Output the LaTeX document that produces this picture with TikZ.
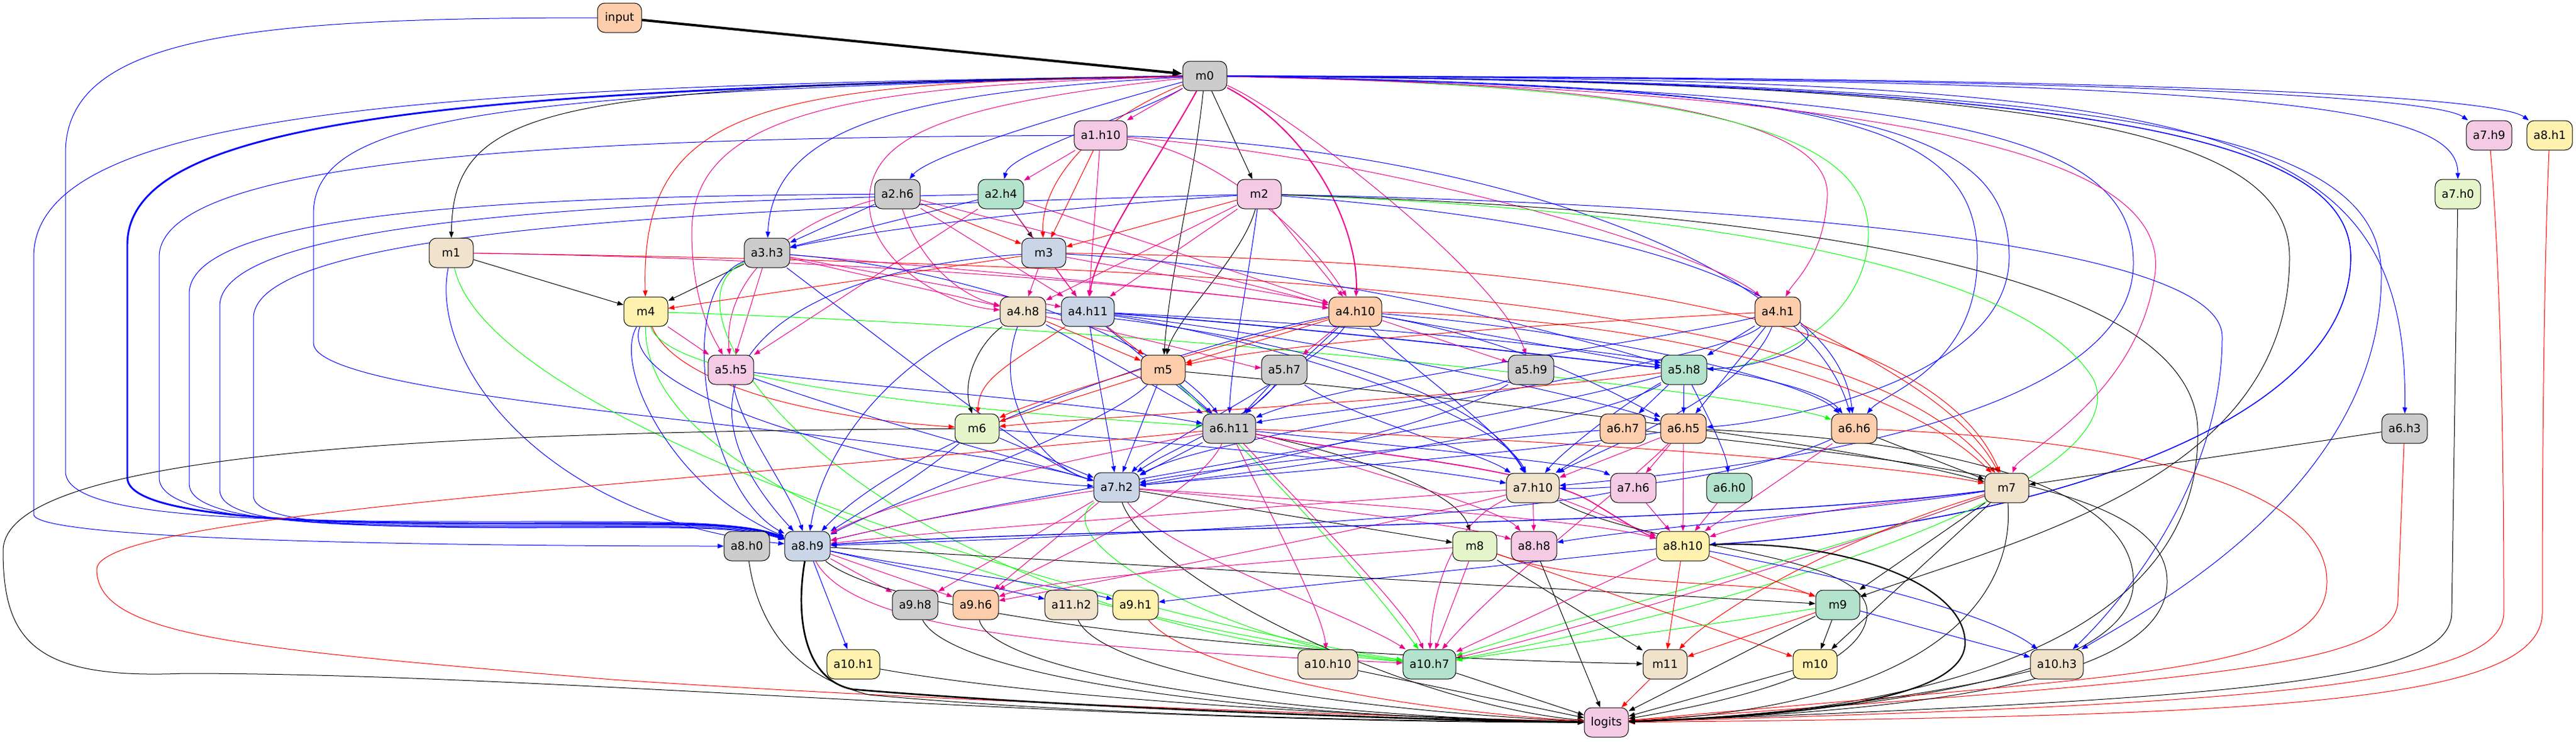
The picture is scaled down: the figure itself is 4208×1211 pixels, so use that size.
\documentclass[tikz,border=0pt]{standalone}
\usepackage{fontspec}
\setmainfont{DejaVu Sans}
\usetikzlibrary{arrows.meta,backgrounds}
\definecolor{pmint}{HTML}{B3E2CD}
\definecolor{ppeach}{HTML}{FDCDAC}
\definecolor{pblue}{HTML}{CBD5E8}
\definecolor{ppink}{HTML}{F4CAE4}
\definecolor{pgreen}{HTML}{E6F5C9}
\definecolor{pyellow}{HTML}{FFF2AE}
\definecolor{pbeige}{HTML}{F1E2CC}
\definecolor{pgray}{HTML}{CCCCCC}
\tikzset{
  box/.style={draw, line width=0.75pt, rounded corners=9pt, minimum height=36pt,
    minimum width=54pt, inner xsep=8pt, inner ysep=0pt,
    font=\fontsize{14pt}{16pt}\selectfont},
  conn/.style={-{Triangle[length=7.5pt,width=5.6pt]}, line width=0.75pt},
  bl/.style={conn, blue},
  rd/.style={conn, red},
  mg/.style={conn, magenta},
  gr/.style={conn, green},
  bk/.style={conn, black}
}
\begin{document}
\begin{tikzpicture}[x=0.75pt,y=-0.75pt]
\useasboundingbox (0,0) rectangle (4208,1211);
% nodes, one row per rank
\node[box, fill=ppeach] (input) at (1012,29) {input};
\node[box, fill=pgray] (m0) at (1968,124) {m0};
\node[box, fill=ppink] (a1h10) at (1798,221) {a1.h10};
\node[box, fill=ppink] (a7h9) at (4066,221) {a7.h9};
\node[box, fill=pyellow] (a8h1) at (4165,221) {a8.h1};
\node[box, fill=pgray] (a2h6) at (1466,317) {a2.h6};
\node[box, fill=pmint] (a2h4) at (1635,317) {a2.h4};
\node[box, fill=ppink] (m2) at (2057,317) {m2};
\node[box, fill=pgreen] (a7h0) at (4015,317) {a7.h0};
\node[box, fill=pbeige] (m1) at (737,413) {m1};
\node[box, fill=pgray] (a3h3) at (1253,413) {a3.h3};
\node[box, fill=pblue] (m3) at (1705,413) {m3};
\node[box, fill=pyellow] (m4) at (1055,509) {m4};
\node[box, fill=pbeige] (a4h8) at (1671,509) {a4.h8};
\node[box, fill=pblue] (a4h11) at (1777,509) {a4.h11};
\node[box, fill=ppeach] (a4h10) at (2214,509) {a4.h10};
\node[box, fill=ppeach] (a4h1) at (2904,509) {a4.h1};
\node[box, fill=ppink] (a5h5) at (1194,604) {a5.h5};
\node[box, fill=ppeach] (m5) at (1900,604) {m5};
\node[box, fill=pgray] (a5h7) at (2098,604) {a5.h7};
\node[box, fill=pgray] (a5h9) at (2501,604) {a5.h9};
\node[box, fill=pmint] (a5h8) at (2751,604) {a5.h8};
\node[box, fill=pgreen] (m6) at (1596,700) {m6};
\node[box, fill=pgray] (a6h11) at (2008,700) {a6.h11};
\node[box, fill=ppeach] (a6h7) at (2651,700) {a6.h7};
\node[box, fill=ppeach] (a6h5) at (2750,700) {a6.h5};
\node[box, fill=ppeach] (a6h6) at (3029,700) {a6.h6};
\node[box, fill=pgray] (a6h3) at (3928,700) {a6.h3};
\node[box, fill=pblue] (a7h2) at (1824,796) {a7.h2};
\node[box, fill=pbeige] (a7h10) at (2504,797) {a7.h10};
\node[box, fill=ppink] (a7h6) at (2668,797) {a7.h6};
\node[box, fill=pmint] (a6h0) at (2825,797) {a6.h0};
\node[box, fill=pbeige] (m7) at (3278,797) {m7};
\node[box, fill=pgray] (a8h0) at (1220,892) {a8.h0};
\node[box, fill=pblue] (a8h9) at (1319,892) {a8.h9};
\node[box, fill=pgreen] (m8) at (2409,892) {m8};
\node[box, fill=ppink] (a8h8) at (2506,892) {a8.h8};
\node[box, fill=pyellow] (a8h10) at (2749,892) {a8.h10};
\node[box, fill=pgray] (a9h8) at (1495,988) {a9.h8};
\node[box, fill=ppeach] (a9h6) at (1594,988) {a9.h6};
\node[box, fill=pbeige] (a11h2) at (1750,988) {a11.h2};
\node[box, fill=pyellow] (a9h1) at (1855,988) {a9.h1};
\node[box, fill=pmint] (m9) at (3002,988) {m9};
\node[box, fill=pyellow] (a10h1) at (1394,1085) {a10.h1};
\node[box, fill=pbeige] (a10h10) at (2169,1085) {a10.h10};
\node[box, fill=pmint] (a10h7) at (2335,1085) {a10.h7};
\node[box, fill=pbeige] (m11) at (2720,1085) {m11};
\node[box, fill=pyellow] (m10) at (2965,1085) {m10};
\node[box, fill=pbeige] (a10h3) at (3360,1085) {a10.h3};
\node[box, fill=ppink] (logits) at (2624,1180) {logits};
\begin{scope}[on background layer]
% input and m0
\draw[bk, line width=3pt, -{Triangle[length=12pt,width=9pt]}] (input) -- (m0);
\draw[bl] (input) .. controls (400,29) and (107,60) .. (107,250) -- (107,770) .. controls (107,845) and (400,852) .. (800,852) .. controls (1100,852) and (1200,850) .. (a8h9);
\draw[bl] (m0) .. controls (700,140) and (55,180) .. (55,420) -- (55,840) .. controls (55,885) and (800,892) .. (a8h0);
\draw[bl, line width=2.2pt] (m0) .. controls (700,145) and (208,200) .. (208,400) -- (208,780) .. controls (208,845) and (500,855) .. (800,855) .. controls (1100,855) and (1210,852) .. (a8h9);
\draw[bl] (m0) .. controls (800,150) and (512,190) .. (512,350) -- (512,560) .. controls (512,660) and (1500,700) .. (a7h2);
\draw[bk] (m0) .. controls (900,140) and (740,170) .. (m1);
\draw[rd] (m0) .. controls (1250,135) and (1045,170) .. (m4);
\draw[mg] (m0) .. controls (1400,140) and (1130,180) .. (1130,380) .. controls (1130,500) and (1170,560) .. (a5h5);
\draw[bl] (m0) .. controls (1500,150) and (1262,200) .. (a3h3);
\draw[mg] (m0) .. controls (1550,170) and (1420,220) .. (1420,330) .. controls (1420,430) and (1550,500) .. (a4h8);
\draw[bl] (m0) .. controls (1800,170) and (1520,250) .. (a2h6);
\draw[bl] (m0) .. controls (1850,190) and (1650,250) .. (a2h4);
\draw[mg] (m0) -- (a1h10);
\draw[rd] (m0) .. controls (1780,200) and (1700,300) .. (m3);
\draw[mg, line width=1.5pt] (m0) .. controls (1900,250) and (1790,400) .. (a4h11);
\draw[bk] (m0) .. controls (1950,300) and (1910,450) .. (m5);
\draw[bk] (m0) -- (m2);
\draw[mg, line width=1.5pt] (m0) .. controls (2150,220) and (2220,380) .. (a4h10);
\draw[mg] (m0) .. controls (2100,180) and (2450,450) .. (a5h9);
\draw[mg] (m0) .. controls (2700,135) and (2990,200) .. (2985,320) .. controls (2980,420) and (2930,460) .. (a4h1);
\draw[gr] (m0) .. controls (2800,140) and (3052,220) .. (3052,380) .. controls (3052,520) and (2900,600) .. (a5h8);
\draw[bl] (m0) .. controls (3000,140) and (3230,200) .. (3230,420) .. controls (3230,600) and (3080,640) .. (a6h6);
\draw[bl] (m0) .. controls (3050,145) and (3282,210) .. (3282,420) .. controls (3282,620) and (2900,690) .. (a6h5);
\draw[bl] (m0) .. controls (3200,150) and (3485,220) .. (3485,430) .. controls (3485,700) and (2800,770) .. (a7h10);
\draw[mg] (m0) .. controls (3100,150) and (3550,250) .. (3520,450) .. controls (3490,650) and (3300,740) .. (m7);
\draw[bk] (m0) .. controls (3300,135) and (3740,200) .. (3740,420) .. controls (3740,780) and (3300,880) .. (m9);
\draw[bl, line width=1.2pt] (m0) .. controls (3400,132) and (3840,220) .. (3840,420) .. controls (3840,700) and (3300,860) .. (a8h10);
\draw[bl] (m0) .. controls (3500,132) and (3890,220) .. (3890,450) .. controls (3890,800) and (3500,1000) .. (a10h3);
\draw[bl] (m0) .. controls (3600,128) and (3935,180) .. (a6h3);
\draw[bl] (m0) .. controls (3700,128) and (4015,170) .. (a7h0);
\draw[bl] (m0) .. controls (3500,126) and (3980,160) .. (a7h9);
\draw[bl] (m0) .. controls (3600,125) and (4080,160) .. (a8h1);
% far right
\draw[rd] (a7h9) .. controls (4090,500) and (4090,900) .. (4090,1000) .. controls (4090,1120) and (3700,1150) .. (logits);
\draw[rd] (a8h1) .. controls (4153,500) and (4153,900) .. (4153,1000) .. controls (4153,1150) and (3700,1170) .. (logits);
\draw[bk] (a7h0) -- (4005,1000) .. controls (4005,1110) and (3700,1140) .. (logits);
\draw[rd] (a6h3) -- (3917,980) .. controls (3917,1090) and (3600,1110) .. (logits);
\draw[bk] (a6h3) -- (m7);
% a1.h10
\draw[mg] (a1h10) -- (a2h4);
\draw[rd] (a1h10) -- (m3);
\draw[mg] (a1h10) -- (a4h11);
\draw[bl] (a1h10) .. controls (1000,225) and (260,250) .. (260,420) -- (260,780) .. controls (260,848) and (500,858) .. (800,858) .. controls (1100,858) and (1200,852) .. (a8h9);
\draw[bl] (a1h10) .. controls (2400,240) and (2950,420) .. (a6h6);
\draw[mg] (a1h10) .. controls (2000,250) and (2150,400) .. (a4h10);
\draw[mg] (a1h10) .. controls (2300,260) and (2800,420) .. (a4h1);
% a2.h6, a2.h4
\draw[bl] (a2h6) -- (a3h3);
\draw[rd] (a2h6) -- (m3);
\draw[mg] (a2h6) .. controls (1500,420) and (1560,480) .. (a4h8);
\draw[mg] (a2h6) -- (a4h11);
\draw[mg] (a2h6) -- (a4h10);
\draw[mg] (a2h6) .. controls (1300,360) and (1180,450) .. (a5h5);
\draw[bl] (a2h6) .. controls (900,320) and (309,340) .. (309,480) -- (309,790) .. controls (309,848) and (500,860) .. (800,860) .. controls (1100,860) and (1200,854) .. (a8h9);
\draw[bl] (a2h4) -- (a3h3);
\draw[bk] (a2h4) -- (m3);
\draw[mg] (a2h4) -- (a5h5);
\draw[mg] (a2h4) -- (a4h10);
\draw[mg] (a2h4) -- (a4h11);
\draw[bl] (a2h4) .. controls (1000,330) and (359,360) .. (359,500) -- (359,800) .. controls (359,850) and (500,860) .. (800,861) .. controls (1100,862) and (1200,856) .. (a8h9);
% m2
\draw[bl] (m2) .. controls (1700,340) and (1400,380) .. (a3h3);
\draw[rd] (m2) -- (m3);
\draw[mg] (m2) -- (a4h11);
\draw[mg] (m2) -- (a4h8);
\draw[mg] (m2) -- (a4h10);
\draw[bk] (m2) .. controls (2030,420) and (1920,520) .. (m5);
\draw[bl] (m2) .. controls (2040,450) and (2010,600) .. (a6h11);
\draw[bl] (m2) .. controls (1200,340) and (414,370) .. (414,520) -- (414,810) .. controls (414,855) and (600,862) .. (850,862) .. controls (1100,862) and (1200,858) .. (a8h9);
\draw[bl] (m2) .. controls (2600,360) and (3000,450) .. (a6h6);
\draw[gr] (m2) .. controls (2700,340) and (3300,420) .. (3420,620) .. controls (3500,800) and (2800,1000) .. (a10h7);
\draw[bl] (m2) .. controls (2900,335) and (3630,400) .. (3630,550) .. controls (3630,800) and (3450,1000) .. (a10h3);
\draw[bk] (m2) .. controls (2800,340) and (3580,420) .. (3590,700) .. controls (3600,1100) and (3000,1170) .. (logits);
% m1
\draw[bk] (m1) -- (m4);
\draw[rd] (m1) .. controls (2200,435) and (3050,500) .. (m7);
\draw[mg] (m1) .. controls (1500,425) and (2000,480) .. (a4h10);
\draw[gr] (m1) .. controls (800,700) and (1800,1000) .. (a10h7);
\draw[bl] (m1) .. controls (700,600) and (900,850) .. (a8h9);
% a3.h3
\draw[bk] (a3h3) -- (m4);
\draw[mg] (a3h3) -- (a5h5);
\draw[mg] (a3h3) -- (a4h8);
\draw[mg] (a3h3) -- (a4h11);
\draw[mg] (a3h3) .. controls (1700,450) and (2000,480) .. (a4h10);
\draw[bl] (a3h3) .. controls (1500,600) and (1700,760) .. (a7h2);
\draw[bl] (a3h3) .. controls (1600,440) and (1900,560) .. (a6h11);
\draw[bl] (a3h3) .. controls (1100,470) and (1150,800) .. (a8h9);
\draw[gr] (a3h3) .. controls (1050,500) and (1400,1000) .. (a10h7);
% m3
\draw[rd] (m3) -- (m4);
\draw[mg] (m3) -- (a4h8);
\draw[mg] (m3) -- (a4h11);
\draw[mg] (m3) .. controls (1900,450) and (2100,480) .. (a4h10);
\draw[rd] (m3) .. controls (2500,425) and (3150,500) .. (m7);
\draw[bl] (m3) .. controls (1300,440) and (1050,600) .. (a8h9);
\draw[bl] (m3) .. controls (2200,440) and (2600,560) .. (a5h8);
% m4
\draw[mg] (m4) -- (a5h5);
\draw[rd] (m4) .. controls (1100,620) and (1300,680) .. (m6);
\draw[gr] (m4) .. controls (2000,540) and (2900,650) .. (a6h6);
\draw[gr] (m4) .. controls (1100,650) and (1900,690) .. (a6h11);
\draw[gr] (m4) .. controls (1050,800) and (1700,1000) .. (a10h7);
\draw[bl] (m4) .. controls (1000,600) and (1100,800) .. (a8h9);
\draw[bl] (m4) .. controls (1000,650) and (1500,780) .. (a7h2);
% a4.h8, a4.h11
\draw[rd] (a4h8) -- (m5);
\draw[bk] (a4h8) .. controls (1600,560) and (1570,620) .. (m6);
\draw[bl] (a4h8) -- (a6h11);
\draw[bl] (a4h8) .. controls (1620,650) and (1700,760) .. (a7h2);
\draw[mg] (a4h8) .. controls (1900,560) and (2050,600) .. (a5h7);
\draw[bl] (a4h8) .. controls (1500,560) and (1350,700) .. (a8h9);
\draw[bl] (a4h8) .. controls (1900,520) and (2400,600) .. (a7h10);
\draw[rd] (a4h11) -- (m5);
\draw[rd] (a4h11) .. controls (1640,600) and (1600,620) .. (m6);
\draw[bl] (a4h11) -- (a6h11);
\draw[bl] (a4h11) .. controls (1790,600) and (1810,700) .. (a7h2);
\draw[bl, line width=1.2pt] (a4h11) .. controls (2200,540) and (2600,590) .. (a5h8);
\draw[bl] (a4h11) .. controls (2100,560) and (2450,680) .. (a7h10);
\draw[bl] (a4h11) .. controls (2200,560) and (2600,650) .. (a6h5);
\draw[bl] (a4h11) .. controls (2400,540) and (2950,600) .. (a6h6);
% a4.h10, a4.h1
\draw[rd] (a4h10) -- (m5);
\draw[mg] (a4h10) -- (a5h7);
\draw[mg] (a4h10) -- (a5h9);
\draw[bl] (a4h10) -- (a5h8);
\draw[bl] (a4h10) -- (a6h11);
\draw[bl] (a4h10) .. controls (2150,600) and (1900,720) .. (a7h2);
\draw[rd] (a4h10) .. controls (2700,520) and (3100,620) .. (m7);
\draw[bl] (a4h10) .. controls (2600,540) and (2950,620) .. (a6h6);
\draw[bl] (a4h10) .. controls (2500,560) and (2650,650) .. (a6h5);
\draw[bl] (a4h10) .. controls (2300,600) and (2450,700) .. (a7h10);
\draw[bl] (a4h10) .. controls (2000,550) and (1500,700) .. (a8h9);
\draw[rd] (a4h10) .. controls (2000,560) and (1700,650) .. (m6);
\draw[rd] (a4h1) .. controls (2500,530) and (2100,560) .. (m5);
\draw[bl] (a4h1) -- (a5h8);
\draw[bl] (a4h1) .. controls (2990,560) and (2880,600) .. (a5h8);
\draw[bl] (a4h1) -- (a6h5);
\draw[bl] (a4h1) .. controls (2700,560) and (2200,620) .. (a6h11);
\draw[bl] (a4h1) .. controls (2850,650) and (2600,740) .. (a7h10);
\draw[bl] (a4h1) .. controls (2800,600) and (2000,700) .. (a7h2);
\draw[rd] (a4h1) .. controls (3000,560) and (3200,650) .. (m7);
% rank of a5
\draw[bl] (a5h5) .. controls (1500,640) and (1800,660) .. (a6h11);
\draw[bl] (a5h5) .. controls (1400,680) and (1700,760) .. (a7h2);
\draw[bl] (a5h5) .. controls (1210,700) and (1290,800) .. (a8h9);
\draw[rd] (m5) -- (m6);
\draw[bl] (m5) -- (a6h11);
\draw[bl] (m5) -- (a7h2);
\draw[bl] (m5) .. controls (1800,700) and (1500,800) .. (a8h9);
\draw[bk] (m5) .. controls (2400,650) and (3000,720) .. (m7);
\draw[gr] (m5) .. controls (2000,700) and (2200,900) .. (a10h7);
\draw[bl] (a5h7) -- (a6h11);
\draw[bl] (a5h7) .. controls (2050,680) and (1900,740) .. (a7h2);
\draw[bl] (a5h7) .. controls (2200,680) and (2420,740) .. (a7h10);
\draw[bl] (a5h9) .. controls (2400,650) and (2100,680) .. (a6h11);
\draw[bl] (a5h9) .. controls (2350,700) and (1950,780) .. (a7h2);
\draw[bl] (a5h8) -- (a6h7);
\draw[bl] (a5h8) -- (a6h5);
\draw[bl] (a5h8) .. controls (2790,680) and (2820,740) .. (a6h0);
\draw[rd] (a5h8) .. controls (2400,650) and (1800,680) .. (m6);
\draw[bl] (a5h8) .. controls (2600,700) and (2000,780) .. (a7h2);
\draw[bl] (a5h8) .. controls (2650,660) and (2550,740) .. (a7h10);
\draw[bl] (a5h8) .. controls (2400,700) and (1700,800) .. (a8h9);
% rank of a6
\draw[bl] (m6) -- (a7h2);
\draw[bl] (m6) .. controls (1500,780) and (1400,840) .. (a8h9);
\draw[bl] (m6) .. controls (1900,720) and (2300,760) .. (a7h10);
\draw[bk] (m6) .. controls (800,705) and (5,730) .. (5,900) .. controls (5,1050) and (60,1110) .. (300,1100) .. controls (900,1100) and (1700,1180) .. (logits);
\draw[bl] (a6h11) -- (a7h2);
\draw[mg] (a6h11) .. controls (1700,760) and (1450,820) .. (a8h9);
\draw[bk] (a6h11) .. controls (2200,740) and (2380,800) .. (m8);
\draw[mg] (a6h11) .. controls (2200,760) and (2450,830) .. (a8h8);
\draw[mg, line width=1.3pt] (a6h11) .. controls (2200,740) and (2500,760) .. (2600,820) .. controls (2650,850) and (2680,870) .. (a8h10);
\draw[bl] (a6h11) .. controls (2300,730) and (2600,760) .. (a7h6);
\draw[mg] (a6h11) .. controls (1950,820) and (1700,920) .. (a9h6);
\draw[mg] (a6h11) .. controls (2080,850) and (2160,1000) .. (a10h10);
\draw[mg] (a6h11) .. controls (2150,850) and (2300,1000) .. (a10h7);
\draw[rd] (a6h11) .. controls (2600,720) and (3100,760) .. (m7);
\draw[rd] (a6h11) .. controls (1100,790) and (158,840) .. (158,930) .. controls (158,1040) and (400,1060) .. (1000,1110) .. controls (1600,1150) and (2300,1170) .. (logits);
\draw[bl] (a6h7) .. controls (2400,720) and (2000,760) .. (a7h2);
\draw[bl] (a6h7) -- (a7h10);
\draw[bk] (a6h7) .. controls (3200,760) and (3540,800) .. (3540,950) .. controls (3540,1100) and (3200,1160) .. (logits);
\draw[mg] (a6h5) -- (a7h10);
\draw[mg] (a6h5) -- (a7h6);
\draw[bl] (a6h5) .. controls (2500,740) and (2000,780) .. (a7h2);
\draw[mg] (a6h5) -- (a8h10);
\draw[mg] (a6h5) .. controls (2650,800) and (2450,950) .. (a10h7);
\draw[bk] (a6h5) .. controls (3200,720) and (3485,800) .. (3485,950) .. controls (3485,1100) and (3100,1160) .. (logits);
\draw[bk] (a6h6) -- (m7);
\draw[mg] (a6h6) -- (a8h10);
\draw[bl] (a6h6) .. controls (2900,760) and (2700,800) .. (a7h10);
\draw[rd] (a6h6) .. controls (3500,720) and (3801,800) .. (3801,950) .. controls (3801,1100) and (3500,1100) .. (logits);
% rank of a7
\draw[mg] (a7h2) .. controls (1600,830) and (1450,860) .. (a8h9);
\draw[bk] (a7h2) -- (m8);
\draw[mg] (a7h2) .. controls (2200,820) and (2600,850) .. (a8h10);
\draw[mg] (a7h2) .. controls (2100,820) and (2400,860) .. (a8h8);
\draw[mg] (a7h2) -- (a9h6);
\draw[mg] (a7h2) -- (a9h8);
\draw[mg] (a7h2) .. controls (1900,900) and (2200,1000) .. (a10h7);
\draw[gr] (a7h2) .. controls (1700,880) and (2000,1050) .. (a10h7);
\draw[bk] (a7h2) .. controls (1880,950) and (2300,1150) .. (logits);
\draw[mg] (a7h10) -- (a8h8);
\draw[mg] (a7h10) -- (a8h10);
\draw[mg] (a7h10) .. controls (2200,820) and (1600,860) .. (a8h9);
\draw[mg] (a7h10) .. controls (2380,850) and (2340,950) .. (a10h7);
\draw[mg] (a7h10) .. controls (2300,850) and (1800,950) .. (a9h6);
\draw[bk] (a7h10) .. controls (2700,900) and (3050,900) .. (3050,1000) .. controls (3050,1100) and (2800,1150) .. (logits);
\draw[mg] (a7h6) -- (a8h10);
\draw[bl] (a7h6) .. controls (2400,850) and (1700,880) .. (a8h9);
\draw[mg] (a6h0) -- (a8h10);
\draw[mg] (m7) .. controls (3100,820) and (2900,840) .. (a8h10);
\draw[gr] (m7) .. controls (3000,900) and (2600,1000) .. (a10h7);
\draw[mg] (m7) .. controls (3050,880) and (2650,1010) .. (a10h7);
\draw[bk] (m7) -- (m9);
\draw[bk] (m7) -- (m10);
\draw[rd] (m7) .. controls (3000,880) and (2800,1000) .. (m11);
\draw[bk] (m7) .. controls (3290,950) and (3200,1150) .. (logits);
\draw[bl, line width=1.1pt] (m7) .. controls (2800,860) and (1800,860) .. (a8h9);
\draw[bl] (m7) .. controls (3000,840) and (2700,860) .. (a8h8);
% rank of a8
\draw[bk] (a8h0) .. controls (1235,1000) and (1280,1100) .. (1420,1135) .. controls (1800,1170) and (2300,1178) .. (logits);
\draw[mg] (a8h9) -- (a9h8);
\draw[mg] (a8h9) -- (a9h6);
\draw[bl] (a8h9) -- (a11h2);
\draw[bl] (a8h9) .. controls (1500,930) and (1700,950) .. (a9h1);
\draw[bl] (a8h9) -- (a10h1);
\draw[mg] (a8h9) .. controls (1400,1040) and (1800,1060) .. (a10h7);
\draw[bk] (a8h9) .. controls (1450,1000) and (2000,1070) .. (m11);
\draw[bk] (a8h9) -- (m9);
\draw[bk, line width=2pt] (a8h9) .. controls (1300,1000) and (1310,1110) .. (1393,1126) .. controls (1800,1160) and (2400,1178) .. (logits);
\draw[mg] (m8) .. controls (1900,930) and (1700,950) .. (a9h6);
\draw[mg] (m8) -- (a10h7);
\draw[bk] (m8) -- (m11);
\draw[rd] (m8) -- (m10);
\draw[rd] (m8) .. controls (2600,960) and (2900,950) .. (m9);
\draw[bk] (a8h8) -- (logits);
\draw[rd] (a8h10) -- (m9);
\draw[rd] (a8h10) -- (m11);
\draw[mg] (a8h10) -- (a10h7);
\draw[bl] (a8h10) .. controls (2300,940) and (2000,970) .. (a9h1);
\draw[bl] (a8h10) .. controls (3000,940) and (3250,1000) .. (a10h3);
\draw[bk, line width=1.6pt] (a8h10) .. controls (3000,880) and (3210,950) .. (3210,1050) .. controls (3210,1150) and (2900,1170) .. (logits);
% rank of a9 and a10
\draw[bk] (a9h8) .. controls (1550,1100) and (2000,1170) .. (logits);
\draw[bk] (a9h6) .. controls (1620,1100) and (2100,1170) .. (logits);
\draw[bk] (a11h2) .. controls (1800,1100) and (2200,1160) .. (logits);
\draw[rd] (a9h1) .. controls (1950,1100) and (2300,1160) .. (logits);
\draw[bk] (m9) -- (m10);
\draw[rd] (m9) -- (m11);
\draw[gr] (m9) .. controls (2800,1020) and (2500,1060) .. (a10h7);
\draw[bl] (m9) -- (a10h3);
\draw[bk] (m9) -- (logits);
\draw[bk] (a10h1) .. controls (1700,1140) and (2200,1170) .. (logits);
\draw[bk] (a10h10) -- (logits);
\draw[bk] (a10h7) -- (logits);
\draw[rd] (m11) -- (logits);
\draw[bk] (m10) -- (logits);
\draw[bk] (a10h3) .. controls (3100,1150) and (2800,1175) .. (logits);
\end{scope}
\end{tikzpicture}
\end{document}
